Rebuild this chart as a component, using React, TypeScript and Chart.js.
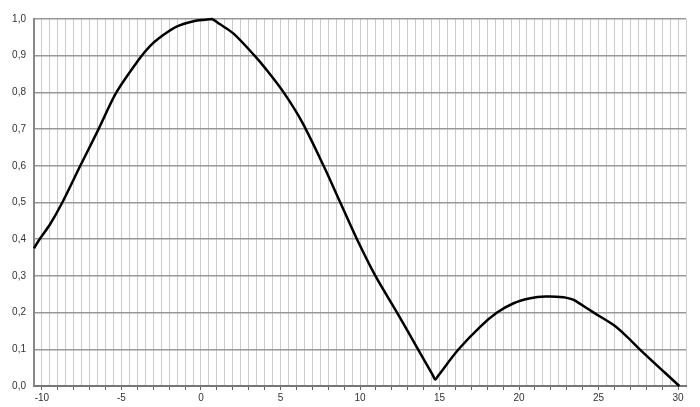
import React, { useEffect, useRef } from "react";
import { Chart, registerables } from "chart.js";

Chart.register(...registerables);

const xValues = [
  -10.5, -10.15, -9.5, -8.72, -7.59, -6.44, -5.32, -3.92, -3.19, -2.35, -1.5, -0.46, 0.25, 0.69,
  1.15, 2.05, 3.37, 4.15, 5.2, 6.36, 7.71, 8.76, 9.81, 10.97, 12.33, 13.65, 14.55, 14.74,
  14.95, 16.2, 17.57, 18.62, 19.66, 20.71, 21.66, 22.8, 23.2, 23.44, 23.8, 24.7, 25.95, 26.8, 27.59, 30.08,
];
const yValues = [
  0.375, 0.4, 0.44, 0.5, 0.6, 0.7, 0.8, 0.889, 0.927, 0.957, 0.98, 0.994, 0.998, 1.0,
  0.987, 0.96, 0.9, 0.86, 0.8, 0.719, 0.6, 0.5, 0.4, 0.3, 0.2, 0.1, 0.032, 0.018,
  0.03, 0.1, 0.162, 0.2, 0.2255, 0.239, 0.2436, 0.242, 0.238, 0.2345, 0.225, 0.2, 0.166, 0.134, 0.1, 0.0,
];
const xLabelValues = [-10, -5, 0, 5, 10, 15, 20, 25, 30];

export default function App() {
  const ref = useRef<HTMLCanvasElement | null>(null);
  useEffect(() => {
    if (!ref.current) return;
    const chart = new Chart(ref.current, {
      type: "line",
      data: {
        datasets: [
          {
            data: xValues.map((x, i) => ({ x, y: yValues[i] })),
            borderColor: "#000000",
            borderWidth: 2.5,
            pointRadius: 0,
            tension: 0.3,
            fill: false,
            clip: 4,
          },
        ],
      },
      options: {
        animation: false,
        responsive: false,
        maintainAspectRatio: false,
        layout: { padding: { top: 19, right: 14, left: 0, bottom: 0 } },
        plugins: { legend: { display: false }, tooltip: { enabled: false } },
        scales: {
          x: {
            type: "linear",
            min: -10.5,
            max: 30.5,
            afterFit: (s: any) => {
              s.height = 21;
            },
            afterBuildTicks: (s: any) => {
              const t = [];
              for (let i = 0; i <= 82; i++) t.push({ value: -10.5 + i * 0.5 });
              s.ticks = t;
            },
            ticks: {
              autoSkip: false,
              maxRotation: 0,
              padding: 2,
              color: "#333333",
              font: { family: "'Liberation Sans', Arial, sans-serif", size: 10 },
              callback: (v: any) => {
                const n = Number(v);
                return xLabelValues.includes(n) ? String(n) : "";
              },
            },
            grid: {
              color: "#cccccc",
              lineWidth: 1,
              tickLength: 4,
              tickColor: (ctx: any) => {
                const v = ctx.tick ? ctx.tick.value : 0;
                return Number.isInteger(v) ? "#666666" : "rgba(0,0,0,0)";
              },
            },
            border: { color: "#777777", width: 2 },
          },
          y: {
            type: "linear",
            min: 0,
            max: 1,
            afterFit: (s: any) => {
              s.width = 34;
            },
            ticks: {
              stepSize: 0.1,
              padding: 4,
              color: "#333333",
              font: { family: "'Liberation Sans', Arial, sans-serif", size: 10 },
              callback: (v: any) => Number(v).toFixed(1).replace(".", ","),
            },
            grid: {
              color: "#999999",
              lineWidth: 1.5,
              tickLength: 4,
              tickColor: "rgba(0,0,0,0)",
            },
            border: { color: "#888888", width: 2 },
          },
        },
      },
    });
    return () => chart.destroy();
  }, []);
  return (
    <div style={{ position: "absolute", left: 0, top: 0, width: 700, height: 407, background: "#fff" }}>
      <canvas ref={ref} width={700} height={407} style={{ width: 700, height: 407 }} />
    </div>
  );
}
